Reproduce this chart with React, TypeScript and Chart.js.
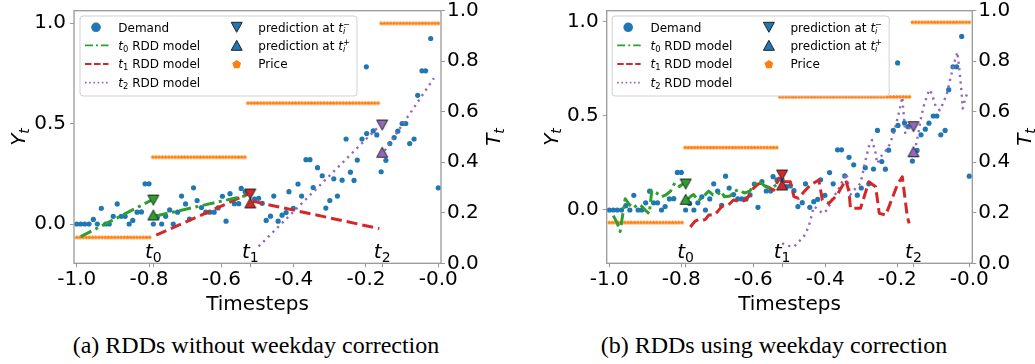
import React, { useEffect, useRef } from 'react';
import { Chart, registerables } from 'chart.js';

Chart.register(...registerables);

// ---------------- data ----------------
const xTickValues = [-1.0, -0.8, -0.6, -0.4, -0.2, 0.0];
const xTickLabels = ['-1.0', '-0.8', '-0.6', '-0.4', '-0.2', '-0.0'];
const yTickValues = [0, 0.5, 1.0];
const yTickLabels = ['0.0', '0.5', '1.0'];
const tTickValues = [0, 0.2, 0.4, 0.6, 0.8, 1.0];
const tTickLabels = ['0.0', '0.2', '0.4', '0.6', '0.8', '1.0'];

const breakNames = ['0', '1', '2'];
const breakX = [-0.788, -0.52, -0.155];

const demandX = [
  -1.0, -0.989, -0.978, -0.966, -0.954, -0.943, -0.932, -0.92, -0.91, -0.899,
  -0.888, -0.877, -0.866, -0.855, -0.845, -0.833, -0.821, -0.811, -0.8, -0.788,
  -0.777, -0.765, -0.754, -0.743, -0.733, -0.721, -0.71, -0.699, -0.688, -0.677,
  -0.667, -0.655, -0.643, -0.632, -0.62, -0.609, -0.597, -0.587, -0.576, -0.564,
  -0.552, -0.545, -0.534, -0.52, -0.508, -0.497, -0.487, -0.476, -0.464, -0.455,
  -0.443, -0.432, -0.421, -0.413, -0.401, -0.388, -0.378, -0.366, -0.355, -0.346,
  -0.334, -0.321, -0.311, -0.3, -0.289, -0.279, -0.266, -0.255, -0.243, -0.233,
  -0.224, -0.211, -0.199, -0.198, -0.18, -0.17, -0.158, -0.145, -0.134, -0.122,
  -0.112, -0.1, -0.09, -0.079, -0.067, -0.057, -0.045, -0.035, -0.021, 0.0,
];
const demandY = [
  0, 0, 0, 0, 0.023, 0, 0.078, 0, 0, 0.038,
  0.1, 0.038, 0.038, 0, 0.018, 0.059, 0.06, 0.2, 0.2, 0,
  0.035, 0, 0.038, 0.07, 0, 0.059, 0.139, 0.1, 0.025, 0.18,
  0.117, 0.082, 0.059, 0.059, 0.059, 0.08, 0.138, 0.014, 0.151, 0.101,
  0.101, 0.177, 0.16, 0.16, 0.124, 0.128, 0.103, 0.018, 0.039, 0.139,
  0.014, 0.044, 0.057, 0.161, 0.078, 0.199, 0.139, 0.32, 0.32, 0.181,
  0.28, 0.24, 0.079, 0.117, 0.225, 0.139, 0.218, 0.423, 0.258, 0.217,
  0.318, 0.423, 0.782, 0.45, 0.463, 0.443, 0.26, 0.317, 0.4, 0.43,
  0.462, 0.5, 0.5, 0.4, 0.423, 0.64, 0.762, 0.762, 0.923, 0.18,
];

// price: a step series, one marker per timestep
const priceStart = -1.0;
const priceStep = 1 / 114;
const priceLevels = [-0.065, 0.334, 0.603, 1.0];
const priceCounts = [24, 30, 42, 19];

// RDD models without weekday correction: [segment][point][x, y]
const plainT0 = [[[-0.989, -0.063], [-0.795, 0.117]], [[-0.781, 0.04], [-0.527, 0.143]]];
const plainT1 = [[[-0.78, -0.055], [-0.527, 0.148]], [[-0.513, 0.113], [-0.163, -0.023]]];
const plainT2 = [[[-0.497, -0.112], [-0.163, 0.488]], [[-0.148, 0.365], [-0.012, 0.726]]];
const plainPredMinus = [0.119, 0.149, 0.4925];
const plainPredPlus = [0.045, 0.105, 0.357];

// RDD models using weekday correction
const weekT0 = [
  [[-0.989, -0.03], [-0.978, -0.07], [-0.97, -0.115], [-0.956, 0.06], [-0.945, 0.03], [-0.933, 0.01],
   [-0.921, 0.03], [-0.91, 0.02], [-0.898, -0.005], [-0.889, -0.02], [-0.882, 0.105], [-0.868, 0.09],
   [-0.855, 0.07], [-0.843, 0.08], [-0.83, 0.1], [-0.818, 0.145], [-0.805, 0.125], [-0.795, 0.14]],
  [[-0.784, 0.055], [-0.772, 0.075], [-0.766, 0.082], [-0.752, 0.05], [-0.74, 0.07], [-0.724, 0.1],
   [-0.712, 0.08], [-0.7, 0.08], [-0.69, 0.1], [-0.68, 0.07], [-0.664, 0.075], [-0.652, 0.1],
   [-0.641, 0.108], [-0.625, 0.09], [-0.61, 0.1], [-0.595, 0.14], [-0.585, 0.155], [-0.566, 0.125],
   [-0.55, 0.115], [-0.535, 0.135]],
];
const weekT1 = [
  [[-0.775, -0.09], [-0.762, -0.06], [-0.752, -0.05], [-0.74, -0.055], [-0.733, -0.05], [-0.724, -0.027],
   [-0.71, -0.027], [-0.7, -0.01], [-0.687, 0.02], [-0.669, 0.027], [-0.655, 0.053], [-0.636, 0.044],
   [-0.622, 0.053], [-0.61, 0.08], [-0.6, 0.115], [-0.585, 0.14], [-0.576, 0.142], [-0.562, 0.124],
   [-0.543, 0.106], [-0.527, 0.175]],
  [[-0.515, 0.15], [-0.497, 0.15], [-0.487, 0.071], [-0.474, 0.062], [-0.458, 0.1], [-0.441, 0.133],
   [-0.418, 0.16], [-0.408, 0.053], [-0.39, 0.035], [-0.367, 0.08], [-0.343, 0.16], [-0.334, 0.097],
   [-0.33, 0.009], [-0.302, 0.009], [-0.279, 0.15], [-0.26, 0.124], [-0.25, -0.018], [-0.232, -0.027],
   [-0.2, 0.133], [-0.186, 0.177], [-0.172, -0.036], [-0.167, -0.071]],
];
const weekT2 = [
  [[-0.52, -0.177], [-0.505, -0.19], [-0.487, -0.195], [-0.46, -0.142], [-0.446, -0.089], [-0.437, -0.02],
   [-0.432, 0.018], [-0.42, 0.005], [-0.408, -0.018], [-0.394, 0.0], [-0.38, 0.062], [-0.366, 0.1],
   [-0.353, 0.151], [-0.341, 0.195], [-0.331, 0.08], [-0.318, 0.11], [-0.302, 0.142], [-0.288, 0.266],
   [-0.279, 0.337], [-0.27, 0.372], [-0.26, 0.301], [-0.256, 0.248], [-0.24, 0.3], [-0.225, 0.33],
   [-0.213, 0.39], [-0.204, 0.452], [-0.195, 0.52], [-0.186, 0.6], [-0.178, 0.41], [-0.165, 0.44]],
  [[-0.152, 0.31], [-0.142, 0.4], [-0.133, 0.5], [-0.124, 0.57], [-0.111, 0.64], [-0.104, 0.62],
   [-0.093, 0.55], [-0.082, 0.53], [-0.072, 0.57], [-0.062, 0.62], [-0.051, 0.71], [-0.042, 0.78],
   [-0.033, 0.84], [-0.027, 0.74], [-0.022, 0.64], [-0.018, 0.54], [-0.01, 0.6], [-0.005, 0.62]],
];
const weekPredMinus = [0.138, 0.186, 0.443];
const weekPredPlus = [0.057, 0.133, 0.31];

const captions = ['(a) RDDs without weekday correction', '(b) RDDs using weekday correction'];

// ---------------- styles ----------------
const BLUE = '#1f77b4';
const ORANGE = '#ff7f0e';
const modelColors = ['#2ca02c', '#d62728', '#9467bd'];
const modelWidths = [3, 3, 2.4];
const modelDashes = [[12, 4.5, 3, 4.5], [11, 5], [2.2, 4.4]];
const legendDashes = [[8, 3, 2, 3], [6.5, 2.5], [1.6, 2.6]];
const FONT = '"DejaVu Sans"';
const SPINE = '#999999';
const CANVAS_H = 320;
const PLOT_TOP = 10.7;
const PLOT_BOTTOM = 263.3;

type Part = { t: string; s: number; it?: boolean; dy?: number; hold?: boolean };

function setFont(ctx: CanvasRenderingContext2D, s: number, it?: boolean) {
  ctx.font = `${it ? 'italic ' : ''}${s}px ${FONT}`;
}
function partsWidth(ctx: CanvasRenderingContext2D, parts: Part[]) {
  let w = 0;
  let held = 0;
  for (const p of parts) {
    setFont(ctx, p.s, p.it);
    const pw = ctx.measureText(p.t).width;
    if (p.hold) held = pw;
    else { w += Math.max(pw, held); held = 0; }
  }
  return w;
}
function drawParts(ctx: CanvasRenderingContext2D, parts: Part[], x: number, y: number, align: 'left' | 'center') {
  const w = partsWidth(ctx, parts);
  let cx = align === 'center' ? x - w / 2 : x;
  let held = 0;
  ctx.textBaseline = 'alphabetic';
  ctx.textAlign = 'left';
  for (const p of parts) {
    setFont(ctx, p.s, p.it);
    ctx.fillText(p.t, cx, y + (p.dy || 0));
    const pw = ctx.measureText(p.t).width;
    if (p.hold) held = pw;
    else { cx += Math.max(pw, held); held = 0; }
  }
}

function trianglePath(ctx: CanvasRenderingContext2D, cx: number, cy: number, w: number, h: number, down: boolean) {
  ctx.beginPath();
  if (down) {
    ctx.moveTo(cx - w / 2, cy - h / 2);
    ctx.lineTo(cx + w / 2, cy - h / 2);
    ctx.lineTo(cx, cy + h / 2);
  } else {
    ctx.moveTo(cx, cy - h / 2);
    ctx.lineTo(cx + w / 2, cy + h / 2);
    ctx.lineTo(cx - w / 2, cy + h / 2);
  }
  ctx.closePath();
}
function makeTri(fill: string, down: boolean) {
  const c = document.createElement('canvas');
  c.width = 14; c.height = 13;
  const g = c.getContext('2d')!;
  trianglePath(g, 7, 6.5, 11, 10, down);
  g.fillStyle = fill; g.fill();
  g.strokeStyle = '#222'; g.lineWidth = 1; g.stroke();
  return c;
}
function pentagonPath(ctx: CanvasRenderingContext2D, cx: number, cy: number, r: number) {
  ctx.beginPath();
  for (let k = 0; k < 5; k++) {
    const a = -Math.PI / 2 + (k * 2 * Math.PI) / 5;
    const px = cx + r * Math.cos(a);
    const py = cy + r * Math.sin(a);
    if (k) ctx.lineTo(px, py); else ctx.moveTo(px, py);
  }
  ctx.closePath();
}
function makePentagon(r: number) {
  const size = Math.ceil(r * 2 + 2);
  const c = document.createElement('canvas');
  c.width = size; c.height = size;
  const g = c.getContext('2d')!;
  pentagonPath(g, size / 2, size / 2 + 0.3, r);
  g.fillStyle = ORANGE; g.fill();
  return c;
}

interface Panel {
  width: number;
  xMin: number; xMax: number; yMin: number; yMax: number;
  leftW: number; rightW: number;
  models: number[][][][];
  predMinus: number[]; predPlus: number[];
  yTitleX: number; tTitleX: number; legendDx: number;
}

const panels: Panel[] = [
  {
    width: 517, xMin: -1.0075, xMax: 0.0075, yMin: -0.1955, yMax: 1.0612,
    leftW: 74, rightW: 76, models: [plainT0, plainT1, plainT2],
    predMinus: plainPredMinus, predPlus: plainPredPlus,
    yTitleX: 25.3, tTitleX: 500.2, legendDx: 6,
  },
  {
    width: 518, xMin: -1.0073, xMax: 0.0085, yMin: -0.2835, yMax: 1.06,
    leftW: 89.7, rightW: 62.7, models: [weekT0, weekT1, weekT2],
    predMinus: weekPredMinus, predPlus: weekPredPlus,
    yTitleX: 40.8, tTitleX: 514.2, legendDx: 5.5,
  },
];

function priceData() {
  const pts: { x: number; y: number }[] = [];
  let i = 0;
  priceLevels.forEach((lvl, k) => {
    for (let n = 0; n < priceCounts[k]; n++) {
      pts.push({ x: priceStart + i * priceStep, y: lvl });
      i++;
    }
  });
  return pts;
}

function drawLegend(ctx: CanvasRenderingContext2D, lx: number) {
  const top = 16, w = 277, h = 80, r = 3;
  ctx.save();
  ctx.beginPath();
  ctx.moveTo(lx + r, top);
  ctx.lineTo(lx + w - r, top);
  ctx.quadraticCurveTo(lx + w, top, lx + w, top + r);
  ctx.lineTo(lx + w, top + h - r);
  ctx.quadraticCurveTo(lx + w, top + h, lx + w - r, top + h);
  ctx.lineTo(lx + r, top + h);
  ctx.quadraticCurveTo(lx, top + h, lx, top + h - r);
  ctx.lineTo(lx, top + r);
  ctx.quadraticCurveTo(lx, top, lx + r, top);
  ctx.closePath();
  ctx.fillStyle = 'rgba(255,255,255,0.8)';
  ctx.fill();
  ctx.strokeStyle = 'rgba(204,204,204,0.9)';
  ctx.lineWidth = 1;
  ctx.stroke();

  const rows = [27.3, 45.3, 64, 82.7];
  // Demand marker
  ctx.beginPath();
  ctx.arc(lx + 16, rows[0], 4.8, 0, Math.PI * 2);
  ctx.fillStyle = BLUE;
  ctx.fill();
  // model lines
  for (let k = 0; k < 3; k++) {
    ctx.beginPath();
    ctx.setLineDash(legendDashes[k]);
    ctx.lineWidth = 1.8;
    ctx.lineCap = 'butt';
    ctx.strokeStyle = modelColors[k];
    ctx.moveTo(lx + 5, rows[k + 1]);
    ctx.lineTo(lx + 28.5, rows[k + 1]);
    ctx.stroke();
  }
  ctx.setLineDash([]);
  ctx.fillStyle = '#000';
  const tx = lx + 38.3;
  drawParts(ctx, [{ t: 'Demand', s: 12 }], tx, rows[0] + 4.4, 'left');
  for (let k = 0; k < 3; k++) {
    drawParts(ctx, [
      { t: 't', s: 12, it: true },
      { t: breakNames[k], s: 8.4, dy: 2 },
      { t: ' RDD model', s: 12 },
    ], tx, rows[k + 1] + 4.4, 'left');
  }
  // column 2
  const mx = lx + 156.7;
  trianglePath(ctx, mx, rows[0], 11, 10, true);
  ctx.fillStyle = BLUE; ctx.fill();
  ctx.strokeStyle = '#222'; ctx.lineWidth = 1; ctx.stroke();
  trianglePath(ctx, mx, rows[1], 11, 10, false);
  ctx.fillStyle = BLUE; ctx.fill(); ctx.stroke();
  pentagonPath(ctx, mx, rows[2] + 0.5, 4.6);
  ctx.fillStyle = ORANGE; ctx.fill();

  ctx.fillStyle = '#000';
  const tx2 = lx + 178.3;
  drawParts(ctx, [
    { t: 'prediction at ', s: 12 },
    { t: 't', s: 12, it: true },
    { t: 'i', s: 8.4, it: true, dy: 2.5, hold: true },
    { t: '\u2212', s: 8.4, dy: -4.5 },
  ], tx2, rows[0] + 4.4, 'left');
  drawParts(ctx, [
    { t: 'prediction at ', s: 12 },
    { t: 't', s: 12, it: true },
    { t: 'i', s: 8.4, it: true, dy: 2.5, hold: true },
    { t: '+', s: 8.4, dy: -4.5 },
  ], tx2, rows[1] + 4.4, 'left');
  drawParts(ctx, [{ t: 'Price', s: 12 }], tx2, rows[2] + 4.4, 'left');
  ctx.restore();
}

function makeDecor(p: Panel) {
  return {
    id: 'decor',
    afterDatasetsDraw(chart: any) {
      const { ctx, chartArea } = chart;
      ctx.save();
      ctx.strokeStyle = SPINE;
      ctx.lineWidth = 1.3;
      ctx.strokeRect(chartArea.left, chartArea.top, chartArea.right - chartArea.left, chartArea.bottom - chartArea.top);
      ctx.restore();
    },
    afterDraw(chart: any) {
      const { ctx, chartArea } = chart;
      const xs = chart.scales.x;
      ctx.save();
      ctx.fillStyle = '#000';
      // breakpoint labels
      breakX.forEach((bx, k) => {
        drawParts(ctx, [{ t: 't', s: 20, it: true }, { t: breakNames[k], s: 14, dy: 3.5 }],
          xs.getPixelForValue(bx), 258.3, 'center');
      });
      // x title
      drawParts(ctx, [{ t: 'Timesteps', s: 20 }], (chartArea.left + chartArea.right) / 2, 310, 'center');
      const cy = (chartArea.top + chartArea.bottom) / 2;
      // left title
      ctx.save();
      ctx.translate(p.yTitleX, cy);
      ctx.rotate(-Math.PI / 2);
      drawParts(ctx, [{ t: 'Y', s: 20, it: true }, { t: 't', s: 14, it: true, dy: 3.5 }], 0, 0, 'center');
      ctx.restore();
      // right title
      ctx.save();
      ctx.translate(p.tTitleX, cy);
      ctx.rotate(-Math.PI / 2);
      drawParts(ctx, [{ t: 'T', s: 20, it: true }, { t: 't', s: 14, it: true, dy: 3.5 }], 0, 0, 'center');
      ctx.restore();
      drawLegend(ctx, chartArea.left + p.legendDx);
      ctx.restore();
    },
  };
}

function buildConfig(p: Panel): any {
  const datasets: any[] = [];
  datasets.push({
    data: breakX.map((x, k) => ({ x, y: p.predMinus[k] })),
    pointStyle: modelColors.map((c) => makeTri(c, true)),
    pointRadius: 5, order: 0,
  });
  datasets.push({
    data: breakX.map((x, k) => ({ x, y: p.predPlus[k] })),
    pointStyle: modelColors.map((c) => makeTri(c, false)),
    pointRadius: 5, order: 0,
  });
  p.models.forEach((segs, k) => {
    segs.forEach((seg) => {
      datasets.push({
        data: seg.map(([x, y]) => ({ x, y })),
        showLine: true, pointRadius: 0, borderColor: modelColors[k],
        borderWidth: modelWidths[k], borderDash: modelDashes[k], borderCapStyle: 'butt',
        borderJoinStyle: 'round', tension: 0, order: 1,
      });
    });
  });
  datasets.push({
    data: demandX.map((x, i) => ({ x, y: demandY[i] })),
    pointRadius: 2.6, backgroundColor: BLUE, borderWidth: 0, order: 2,
  });
  datasets.push({
    data: priceData(),
    pointStyle: makePentagon(2.1), pointRadius: 2, order: 3,
  });

  const tickFont = { family: 'DejaVu Sans', size: 20 };
  const grid = { display: true, drawOnChartArea: false, drawTicks: true, tickLength: 4, color: SPINE, lineWidth: 1 };
  return {
    type: 'scatter',
    data: { datasets },
    options: {
      responsive: false, animation: false, events: [],
      layout: { padding: { top: PLOT_TOP, left: 0, right: 0, bottom: 0 } },
      plugins: { legend: { display: false }, tooltip: { enabled: false } },
      scales: {
        x: {
          type: 'linear', position: 'bottom', min: p.xMin, max: p.xMax,
          afterBuildTicks: (s: any) => {
            s.ticks = [...xTickValues, ...breakX].sort((a, b) => a - b).map((v) => ({ value: v }));
          },
          afterFit: (s: any) => {
            s.height = CANVAS_H - PLOT_BOTTOM;
            s.paddingLeft = 0; s.paddingRight = 0; s.paddingTop = 0; s.paddingBottom = 0;
          },
          ticks: {
            autoSkip: false, maxRotation: 0, minRotation: 0, padding: 0, color: '#000', font: tickFont,
            callback: (v: number) => {
              const i = xTickValues.findIndex((t) => Math.abs(t - v) < 1e-9);
              return i >= 0 ? xTickLabels[i] : '';
            },
          },
          grid, border: { display: false },
        },
        y: {
          type: 'linear', position: 'left', min: p.yMin, max: p.yMax,
          afterBuildTicks: (s: any) => { s.ticks = yTickValues.map((v) => ({ value: v })); },
          afterFit: (s: any) => {
            s.width = p.leftW;
            s.paddingLeft = 0; s.paddingRight = 0; s.paddingTop = 0; s.paddingBottom = 0;
          },
          ticks: {
            padding: 4, color: '#000', font: tickFont,
            callback: (v: number) => {
              const i = yTickValues.findIndex((t) => Math.abs(t - v) < 1e-9);
              return i >= 0 ? yTickLabels[i] : '';
            },
          },
          grid, border: { display: false },
        },
        y2: {
          type: 'linear', position: 'right', min: 0, max: 1,
          afterBuildTicks: (s: any) => { s.ticks = tTickValues.map((v) => ({ value: v })); },
          afterFit: (s: any) => {
            s.width = p.rightW;
            s.paddingLeft = 0; s.paddingRight = 0; s.paddingTop = 0; s.paddingBottom = 0;
          },
          ticks: {
            padding: 2, color: '#000', font: tickFont,
            callback: (v: number) => {
              const i = tTickValues.findIndex((t) => Math.abs(t - v) < 1e-9);
              return i >= 0 ? tTickLabels[i] : '';
            },
          },
          grid, border: { display: false },
        },
      },
    },
    plugins: [makeDecor(p)],
  };
}

function PanelChart({ p, left }: { p: Panel; left: number }) {
  const ref = useRef<HTMLCanvasElement | null>(null);
  useEffect(() => {
    if (!ref.current) return;
    const chart = new Chart(ref.current, buildConfig(p));
    return () => chart.destroy();
  }, [p]);
  return (
    <canvas
      ref={ref}
      width={p.width}
      height={CANVAS_H}
      style={{ position: 'absolute', left, top: 0, width: p.width, height: CANVAS_H }}
    />
  );
}

export default function App() {
  const capStyle: React.CSSProperties = {
    position: 'absolute', top: 333, width: 500, textAlign: 'center', whiteSpace: 'nowrap',
    fontFamily: '"Liberation Serif", serif', fontSize: 24, lineHeight: '24px', color: '#000',
  };
  return (
    <div style={{ position: 'absolute', left: 0, top: 0, width: 1035, height: 364, background: '#fff', overflow: 'hidden' }}>
      <PanelChart p={panels[0]} left={0} />
      <PanelChart p={panels[1]} left={517} />
      <div style={{ ...capStyle, left: 256 - 250 }}>{captions[0]}</div>
      <div style={{ ...capStyle, left: 774 - 250 }}>{captions[1]}</div>
    </div>
  );
}
